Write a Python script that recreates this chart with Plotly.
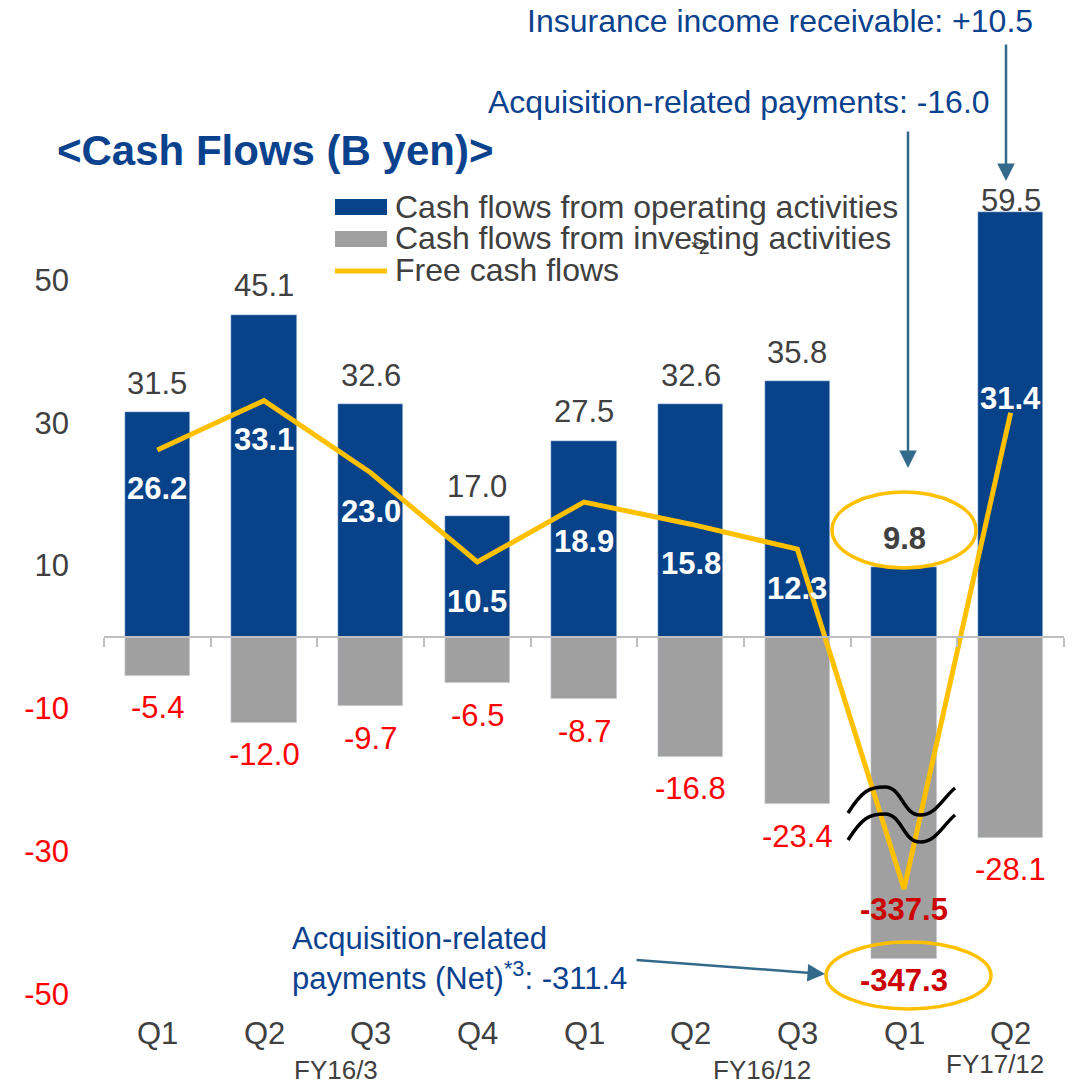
import plotly.graph_objects as go

# ---- data (B yen) ----
QUARTERS = ["Q1", "Q2", "Q3", "Q4", "Q1", "Q2", "Q3", "Q1", "Q2"]
FISCAL_YEARS = ["FY16/3", "FY16/12", "FY17/12"]
operating = [31.5, 45.1, 32.6, 17.0, 27.5, 32.6, 35.8, 9.8, 59.5]
investing = [-5.4, -12.0, -9.7, -6.5, -8.7, -16.8, -23.4, -347.3, -28.1]
free_cf = [26.2, 33.1, 23.0, 10.5, 18.9, 15.8, 12.3, -337.5, 31.4]
Y_TICKS = [50, 30, 10, -10, -30, -50]
LEGEND_NAMES = [
    "Cash flows from operating activities",
    "Cash flows from investing activities",
    "Free cash flows",
]

# axis break: the huge Q1 FY17/12 values are drawn with this many units cut out
BREAK_GAP = 302.2

FONT = "Liberation Sans, Arial, sans-serif"
BLUE = "#08438A"
GREY = "#A0A0A0"
YELLOW = "#FFC000"
DARK = "#404040"
RED = "#FF0000"
DARK_RED = "#CC0000"
TEXT_BLUE = "#0B428E"
ARROW = "#33698A"
AXIS = "#BFBFBF"

# layout is measured in page pixels; the page body adds an 8px margin
OFF = 8
FIG_W, FIG_H = 1076, 1085
PLOT_L, PLOT_R = 104, 1064          # page pixels
ZERO_PX, PX_PER_UNIT = 637, 7.14    # page pixels
Y_RANGE = [(ZERO_PX - (FIG_H + OFF)) / PX_PER_UNIT, (ZERO_PX - OFF) / PX_PER_UNIT]
N = len(QUARTERS)
CAT_W = (PLOT_R - PLOT_L) / N


def paper_x(px):
    return (px - PLOT_L) / (PLOT_R - PLOT_L)


def paper_y(py):
    return 1 - (py - OFF) / FIG_H


def data_x(px):
    return (px - PLOT_L) / CAT_W - 0.5


def data_y(py):
    return (ZERO_PX - py) / PX_PER_UNIT


def shown(v):
    return v + BREAK_GAP if v < -100 else v


idx = list(range(N))
inv_shown = [shown(v) for v in investing]
fcf_shown = [shown(v) for v in free_cf]
brk = [i for i, v in enumerate(investing) if v < -100][0]

fig = go.Figure()
fig.add_trace(go.Bar(x=idx, y=operating, width=0.61, marker_color=BLUE,
                     name=LEGEND_NAMES[0], showlegend=False))
fig.add_trace(go.Bar(x=idx, y=inv_shown, width=0.61, marker_color=GREY,
                     name=LEGEND_NAMES[1], showlegend=False))
fig.add_trace(go.Scatter(x=idx, y=fcf_shown, mode="lines",
                         line=dict(color=YELLOW, width=5),
                         name=LEGEND_NAMES[2], showlegend=False))

ann = []


def label(x, y, text, color, size=31, bold=False, yshift=0, **kw):
    t = f"<b>{text}</b>" if bold else text
    d = dict(x=x, y=y, text=t, showarrow=False, yshift=yshift,
             xanchor="center", yanchor="middle",
             font=dict(family=FONT, size=size, color=color))
    d.update(kw)
    ann.append(d)


for i in idx:
    # operating cash flow above bar
    label(i, operating[i], f"{operating[i]:.1f}", DARK, bold=(i == brk),
          yshift=12 if i == N - 1 else 29)
    # investing cash flow below bar
    if i == brk:
        label(i, inv_shown[i], f"{investing[i]:.1f}", DARK_RED, bold=True, yshift=-21)
    else:
        label(i, inv_shown[i], f"{investing[i]:.1f}", RED, yshift=-32)
    # free cash flow
    if i == brk:
        label(i, fcf_shown[i], f"{free_cf[i]:.1f}", DARK_RED, bold=True, yshift=-20)
    elif i == N - 1:
        label(i, fcf_shown[i], f"{free_cf[i]:.1f}", "white", bold=True, yshift=14)
    else:
        label(i, fcf_shown[i], f"{free_cf[i]:.1f}", "white", bold=True, yshift=-39)
    # quarter labels
    label(i, paper_y(1033), QUARTERS[i], DARK, yref="paper")

# fiscal year labels
for name, px, py in zip(FISCAL_YEARS, [336, 762, 995], [1070, 1070, 1064]):
    label(data_x(px), paper_y(py), name, DARK, size=26, yref="paper")

# title
label(paper_x(55), paper_y(150), "&lt;Cash Flows (B yen)&gt;", TEXT_BLUE, size=42,
      bold=True, xref="paper", yref="paper", xanchor="left")

# legend
legend_rows = [207, 238, 270]
for name, py in zip(LEGEND_NAMES, legend_rows):
    label(paper_x(393), paper_y(py), name, DARK, size=32, xref="paper", yref="paper",
          xanchor="left")
label(paper_x(700), paper_y(247), "*2", DARK, size=20, xref="paper", yref="paper")

# callouts
label(paper_x(1035), paper_y(21), "Insurance income receivable: +10.5", TEXT_BLUE,
      size=32, xref="paper", yref="paper", xanchor="right")
label(paper_x(992), paper_y(102), "Acquisition-related payments: -16.0", TEXT_BLUE,
      size=32, xref="paper", yref="paper", xanchor="right")
label(paper_x(290), paper_y(958), "Acquisition-related<br>payments (Net)<sup>*3</sup>: -311.4",
      TEXT_BLUE, xref="paper", yref="paper", xanchor="left", align="left")

arrows = [((1006, 181), (0, -138)), ((908, 468), (0, -338)), ((825, 974), (-190, -14))]
for (tx, ty), (ax, ay) in arrows:
    ann.append(dict(x=paper_x(tx), y=paper_y(ty), xref="paper", yref="paper",
                    text="", showarrow=True, ax=ax, ay=ay, arrowhead=2,
                    arrowsize=1.4, arrowwidth=2.5, arrowcolor=ARROW))

shapes = []
# legend swatches
shapes.append(dict(type="rect", xref="paper", yref="paper", x0=paper_x(335), x1=paper_x(387),
                   y0=paper_y(215), y1=paper_y(199), fillcolor=BLUE, line_width=0))
shapes.append(dict(type="rect", xref="paper", yref="paper", x0=paper_x(335), x1=paper_x(387),
                   y0=paper_y(247), y1=paper_y(231), fillcolor=GREY, line_width=0))
shapes.append(dict(type="line", xref="paper", yref="paper", x0=paper_x(335), x1=paper_x(387),
                   y0=paper_y(271), y1=paper_y(271), line=dict(color=YELLOW, width=5)))

# highlight ellipses
shapes.append(dict(type="circle", xref="x", yref="y", xsizemode="pixel", ysizemode="pixel",
                   xanchor=brk, yanchor=operating[brk], x0=-72, x1=72, y0=-1, y1=75,
                   line=dict(color=YELLOW, width=3.5)))
shapes.append(dict(type="circle", xref="x", yref="y", xsizemode="pixel", ysizemode="pixel",
                   xanchor=brk, yanchor=inv_shown[brk], x0=-78, x1=87, y0=-50, y1=17,
                   line=dict(color=YELLOW, width=3.5)))


# axis break waves
def wave(dy):
    pts = [(848, 813), (862, 791), (869, 787), (885, 787), (902, 787), (903, 815),
           (920, 815), (936, 815), (943, 798), (955, 788)]
    p = [f"{data_x(x):.4f},{data_y(y + dy):.3f}" for x, y in pts]
    return f"M {p[0]} C {p[1]} {p[2]} {p[3]} C {p[4]} {p[5]} {p[6]} C {p[7]} {p[8]} {p[9]}"


for dy in (0, 27):
    shapes.append(dict(type="path", xref="x", yref="y", path=wave(dy),
                       line=dict(color="black", width=3.5), layer="above"))

tick_text = [f'<span style="color:{DARK if v > 0 else RED}">{v}</span>' for v in Y_TICKS]

fig.update_layout(
    width=FIG_W, height=FIG_H,
    margin=dict(l=PLOT_L - OFF, r=FIG_W - (PLOT_R - OFF), t=0, b=0),
    paper_bgcolor="white", plot_bgcolor="white",
    barmode="relative", bargap=0,
    showlegend=False,
    font=dict(family=FONT, size=31, color=DARK),
    annotations=ann, shapes=shapes,
    xaxis=dict(range=[-0.5, N - 0.5], tickvals=[i - 0.5 for i in range(N + 1)],
               ticks="outside", ticklen=9, tickwidth=2, tickcolor=AXIS,
               showline=True, linecolor=AXIS, linewidth=2, showticklabels=False,
               showgrid=False, zeroline=False, anchor="free",
               position=-Y_RANGE[0] / (Y_RANGE[1] - Y_RANGE[0])),
    yaxis=dict(range=Y_RANGE, tickvals=Y_TICKS, ticktext=tick_text,
               showgrid=False, zeroline=False, showline=False, ticks="",
               ticklabelstandoff=34, tickfont=dict(family=FONT, size=31, color=DARK)),
)

fig.write_html("out.html")
